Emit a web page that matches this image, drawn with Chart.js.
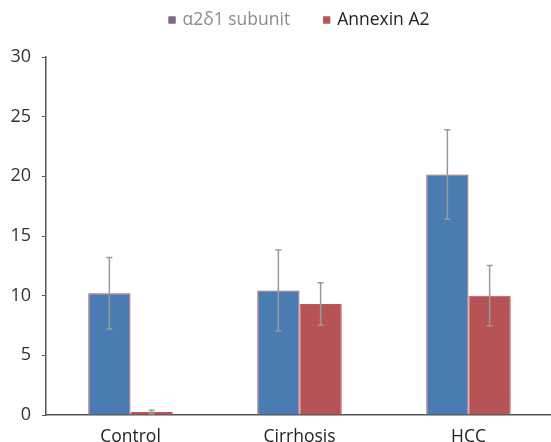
<!DOCTYPE html>
<html>
<head>
<meta charset="utf-8">
<script src="https://cdn.jsdelivr.net/npm/chart.js@4/dist/chart.umd.min.js"></script>
<style>
    html, body { margin: 0; padding: 0; background: #fff; overflow: hidden; }
    #wrap { position: relative; width: 553px; height: 460px; }
</style>
</head>
<body>
<div id="wrap"><canvas id="chart"></canvas></div>
<script>
// Data
const categories = ['Control', 'Cirrhosis', 'HCC'];
const subunitValues = [10.2, 10.43, 20.15];
const subunitErrors = [3.0, 3.4, 3.75];
const annexinValues = [0.25, 9.3, 10.0];
const annexinErrors = [0.15, 1.78, 2.53];
const yTicks = [0, 5, 10, 15, 20, 25, 30];

const FONT = '"Open Sans", "Noto Sans", sans-serif';
const legendTextColors = ['#8c8c8c', '#222'];

// Draw symmetric error bars on top of each bar
const errorBars = {
    id: 'errorBars',
    afterDatasetsDraw(chart) {
        const ctx = chart.ctx;
        const yScale = chart.scales.y;
        ctx.save();
        ctx.strokeStyle = '#9a9a9a';
        ctx.lineWidth = 1.5;
        chart.data.datasets.forEach((ds, i) => {
            const meta = chart.getDatasetMeta(i);
            meta.data.forEach((bar, j) => {
                const v = ds.data[j];
                const e = ds.errors[j];
                const x = bar.x;
                const top = yScale.getPixelForValue(v + e);
                const bottom = yScale.getPixelForValue(v - e);
                ctx.beginPath();
                ctx.moveTo(x, top);
                ctx.lineTo(x, bottom);
                ctx.moveTo(x - 3, top);
                ctx.lineTo(x + 3, top);
                ctx.moveTo(x - 3, bottom);
                ctx.lineTo(x + 3, bottom);
                ctx.stroke();
            });
        });
        ctx.restore();
    }
};

// Simple legend at the top, like the original (square marker + label)
const topLegend = {
    id: 'topLegend',
    afterDraw(chart) {
        const ctx = chart.ctx;
        const ds = chart.data.datasets;
        ctx.save();
        ctx.font = '17.5px ' + FONT;
        ctx.textBaseline = 'middle';
        const box = 7, gap = 7, itemGap = 33;
        const widths = ds.map(d => ctx.measureText(d.label).width);
        let total = 0;
        widths.forEach((w, i) => { total += box + gap + w + (i ? itemGap : 0); });
        let x = 299 - total / 2;
        const y = 20;
        ds.forEach((d, i) => {
            if (i) x += itemGap;
            ctx.fillStyle = d.backgroundColor;
            ctx.fillRect(x, y - box / 2, box, box);
            ctx.strokeStyle = d.borderColor;
            ctx.lineWidth = 1;
            ctx.strokeRect(x + 0.5, y - box / 2 + 0.5, box - 1, box - 1);
            x += box + gap;
            ctx.fillStyle = legendTextColors[i];
            ctx.fillText(d.label, x, y);
            x += widths[i];
        });
        ctx.restore();
    }
};

new Chart(document.getElementById('chart'), {
    type: 'bar',
    data: {
        labels: categories,
        datasets: [
            {
                label: 'α2δ1 subunit',
                data: subunitValues,
                errors: subunitErrors,
                backgroundColor: '#4a7bb1',
                borderColor: '#c0504d',
                borderWidth: 1
            },
            {
                label: 'Annexin A2',
                data: annexinValues,
                errors: annexinErrors,
                backgroundColor: '#b65357',
                borderColor: '#c0585a',
                borderWidth: 1
            }
        ]
    },
    options: {
        responsive: true,
        maintainAspectRatio: false,
        animation: false,
        layout: { padding: { top: 57, left: 0, right: 0, bottom: 0 } },
        datasets: {
            bar: { categoryPercentage: 0.5, barPercentage: 1.0 }
        },
        plugins: {
            tooltip: { enabled: false },
            legend: { display: false }
        },
        scales: {
            x: {
                grid: { display: false, drawTicks: false },
                border: { display: true, color: '#555', width: 1.5 },
                ticks: {
                    color: '#222',
                    padding: 12,
                    font: { family: FONT, size: 17.5 }
                }
            },
            y: {
                min: 0,
                max: 30,
                afterBuildTicks(scale) {
                    scale.ticks = yTicks.map(v => ({ value: v }));
                },
                afterFit(scale) {
                    scale.width = 46;
                },
                grid: {
                    drawOnChartArea: false,
                    drawTicks: true,
                    tickLength: 4,
                    color: '#555'
                },
                border: { display: true, color: '#555', width: 1.5 },
                ticks: {
                    color: '#333',
                    padding: 11,
                    font: { family: FONT, size: 18 }
                }
            }
        }
    },
    plugins: [errorBars, topLegend]
});
</script>
</body>
</html>
